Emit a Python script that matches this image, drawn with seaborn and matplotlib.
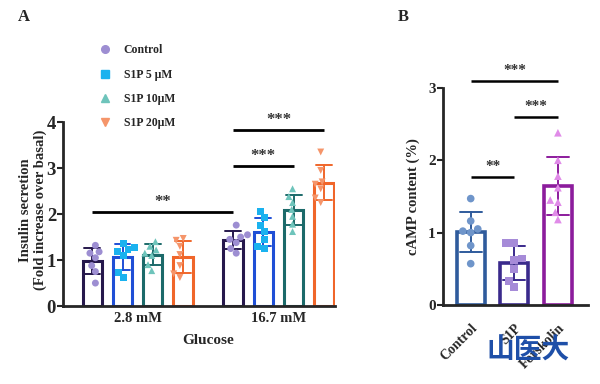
import numpy as np
import pandas as pd
import matplotlib
matplotlib.use("Agg")
import matplotlib.pyplot as plt
from matplotlib.lines import Line2D
import seaborn as sns
import warnings

warnings.filterwarnings('ignore')

# ---- panel A data (insulin secretion, fold over basal) ----
glucose = ["2.8 mM", "16.7 mM"]
treatments = ["Control", "S1P 5 μM", "S1P 10μM", "S1P 20μM"]
ctrl_low = [1.32, 1.18, 1.15, 1.05, 0.88, 0.75, 0.50]
s1p5_low = [1.35, 1.27, 1.22, 1.18, 1.10, 0.72, 0.62]
s1p10_low = [1.40, 1.30, 1.22, 1.15, 1.10, 0.90, 0.77]
s1p20_low = [1.47, 1.43, 1.30, 1.12, 0.88, 0.70, 0.62]
ctrl_high = [1.76, 1.55, 1.50, 1.45, 1.38, 1.25, 1.15]
s1p5_high = [2.05, 1.92, 1.75, 1.62, 1.45, 1.30, 1.25]
s1p10_high = [2.55, 2.38, 2.25, 2.10, 1.95, 1.78, 1.62]
s1p20_high = [3.35, 2.95, 2.70, 2.65, 2.55, 2.35, 2.25]

bar_colors_a = ["#26184c", "#1f4fd6", "#1c6a6a", "#f0662a"]
point_colors_a = ["#9d8ed2", "#1ab2ef", "#6ec4bb", "#f5956a"]
markers_a = ["o", "s", "^", "v"]

# significance: (group1, treat1, group2, treat2, height, label)
sig_a = [(0, 0, 1, 0, 2.04, "**"),
         (1, 0, 1, 2, 3.05, "***"),
         (1, 0, 1, 3, 3.83, "***")]

# ---- panel B data (cAMP content) ----
camp_groups = ["Control", "S1P", "Forskolin"]
camp_control = [1.47, 1.16, 1.05, 1.02, 1.00, 0.82, 0.57]
camp_s1p = [0.86, 0.86, 0.64, 0.62, 0.50, 0.33, 0.25]
camp_forskolin = [2.38, 2.00, 1.78, 1.62, 1.45, 1.42, 1.28, 1.18]

bar_colors_b = ["#2f5b9c", "#3a2a8c", "#8c1c9c"]
point_colors_b = ["#6f95ca", "#a68bd8", "#e08be8"]
markers_b = ["o", "s", "^"]
sig_b = [(0, 1, 1.77, "**"), (1, 2, 2.60, "***"), (0, 2, 3.10, "***")]

sns.set_style("ticks")
plt.rcParams['font.family'] = ['Liberation Serif', 'DejaVu Serif']
plt.rcParams['font.weight'] = 'bold'

rows = []
for g, lists in zip(glucose, [[ctrl_low, s1p5_low, s1p10_low, s1p20_low],
                              [ctrl_high, s1p5_high, s1p10_high, s1p20_high]]):
    for t, vals in zip(treatments, lists):
        for v in vals:
            rows.append((g, t, v))
df_a = pd.DataFrame(rows, columns=["glucose", "treatment", "value"])

rows = []
for c, vals in zip(camp_groups, [camp_control, camp_s1p, camp_forskolin]):
    for v in vals:
        rows.append((c, v))
df_b = pd.DataFrame(rows, columns=["group", "value"])

fig = plt.figure(figsize=(6, 3.84), dpi=100)
ax_a = fig.add_axes([0.105, 0.203, 0.453, 0.479])
ax_b = fig.add_axes([0.738, 0.206, 0.242, 0.565])

# ---- panel A ----
bar_w = 0.86
sns.barplot(data=df_a, x="glucose", y="value", hue="treatment", order=glucose,
            hue_order=treatments, palette=bar_colors_a, fill=False, errorbar="sd",
            capsize=0.45, linewidth=2.2, err_kws={"linewidth": 1.4}, width=bar_w,
            gap=0.36, legend=False, ax=ax_a)
n_before = len(ax_a.collections)
for t, m in zip(treatments, markers_a):
    sns.swarmplot(data=df_a[df_a.treatment == t], x="glucose", y="value",
                  hue="treatment", order=glucose, hue_order=treatments,
                  palette=point_colors_a, dodge=True, marker=m, size=5,
                  linewidth=0, legend=False, ax=ax_a)
# stretch the dodge spacing of the points to match the bars
for coll in ax_a.collections[n_before:]:
    off = coll.get_offsets()
    if len(off):
        c = np.round(off[:, 0])
        off[:, 0] = c + (off[:, 0] - c) * bar_w / 0.8
        coll.set_offsets(off)

step = bar_w / len(treatments)
def xpos(g, t):
    return g + (t - 1.5) * step

for g1, t1, g2, t2, h, lab in sig_a:
    x1, x2 = xpos(g1, t1), xpos(g2, t2)
    ax_a.plot([x1, x2], [h, h], color="black", lw=2, solid_capstyle="butt",
              clip_on=False)
    ax_a.text((x1 + x2) / 2, h + 0.04, lab, ha="center", va="bottom",
              fontsize=12, color="#333333")

ax_a.set_xlim(-0.53, 1.40)
ax_a.set_ylim(0, 4)
ax_a.set_yticks([0, 1, 2, 3, 4])
ax_a.set_xlabel("")
ax_a.set_ylabel("")
ax_a.tick_params(axis="y", labelsize=13.5, length=4, width=1.5, pad=1)
ax_a.tick_params(axis="x", labelsize=10.5, length=0, pad=4)
for lab in ax_a.get_xticklabels() + ax_a.get_yticklabels():
    lab.set_fontweight("bold")
sns.despine(ax=ax_a)
for s in ["left", "bottom"]:
    ax_a.spines[s].set_linewidth(2)

fig.text(0.055, 0.453, "Insulin secretion\n(Fold increase over basal)", rotation=90,
         ha="center", va="center", multialignment="center", fontsize=10.5,
         fontweight="bold", linespacing=1.1)
fig.text(0.347, 0.112, "Glucose", ha="center", va="center", fontsize=11,
         fontweight="bold")

handles = [Line2D([], [], marker=m, color=c, linestyle="none", markersize=5.5)
           for m, c in zip(markers_a, point_colors_a)]
ax_a.legend(handles, treatments, loc="upper left", bbox_to_anchor=(0.155, 0.9),
            bbox_transform=fig.transFigure, frameon=False, borderpad=0,
            handlelength=1, handletextpad=1.1, labelspacing=1.05,
            prop={"size": 8.5, "weight": "bold"})

# ---- panel B ----
sns.barplot(data=df_b, x="group", y="value", hue="group", order=camp_groups,
            hue_order=camp_groups, palette=bar_colors_b, fill=False, errorbar="sd",
            capsize=0.5, linewidth=2.6, err_kws={"linewidth": 1.4}, width=0.64,
            legend=False, ax=ax_b)
for grp, m in zip(camp_groups, markers_b):
    sns.swarmplot(data=df_b[df_b.group == grp], x="group", y="value", hue="group",
                  order=camp_groups, hue_order=camp_groups, palette=point_colors_b,
                  marker=m, size=5.5, linewidth=0, legend=False, ax=ax_b)

for i1, i2, h, lab in sig_b:
    ax_b.plot([i1, i2], [h, h], color="black", lw=1.8, solid_capstyle="butt",
              clip_on=False)
    ax_b.text((i1 + i2) / 2, h + 0.05, lab, ha="center", va="bottom",
              fontsize=11, color="#333333")

ax_b.set_xlim(-0.64, 2.69)
ax_b.set_ylim(0, 3)
ax_b.set_yticks([0, 1, 2, 3])
ax_b.set_xlabel("")
ax_b.set_ylabel("cAMP content (%)", fontsize=10.5, fontweight="bold", labelpad=6)
ax_b.tick_params(axis="y", labelsize=11, length=4, width=1.5, pad=1)
ax_b.tick_params(axis="x", labelsize=10, length=0, pad=12)
plt.setp(ax_b.get_xticklabels(), rotation=45, ha="right", va="top",
         rotation_mode="anchor", fontweight="bold")
plt.setp(ax_b.get_yticklabels(), fontweight="bold")
sns.despine(ax=ax_b)
for s in ["left", "bottom"]:
    ax_b.spines[s].set_linewidth(2)

fig.text(0.03, 0.955, "A", fontsize=12, fontweight="bold", va="center")
fig.text(0.663, 0.955, "B", fontsize=12, fontweight="bold", va="center")
fig.text(0.88, 0.088, "山医大", fontsize=20, fontweight="bold", color="#1e4fa8",
         ha="center", va="center", family=["Noto Sans CJK SC", "DejaVu Sans"])

fig.savefig("out.png", dpi=100)
